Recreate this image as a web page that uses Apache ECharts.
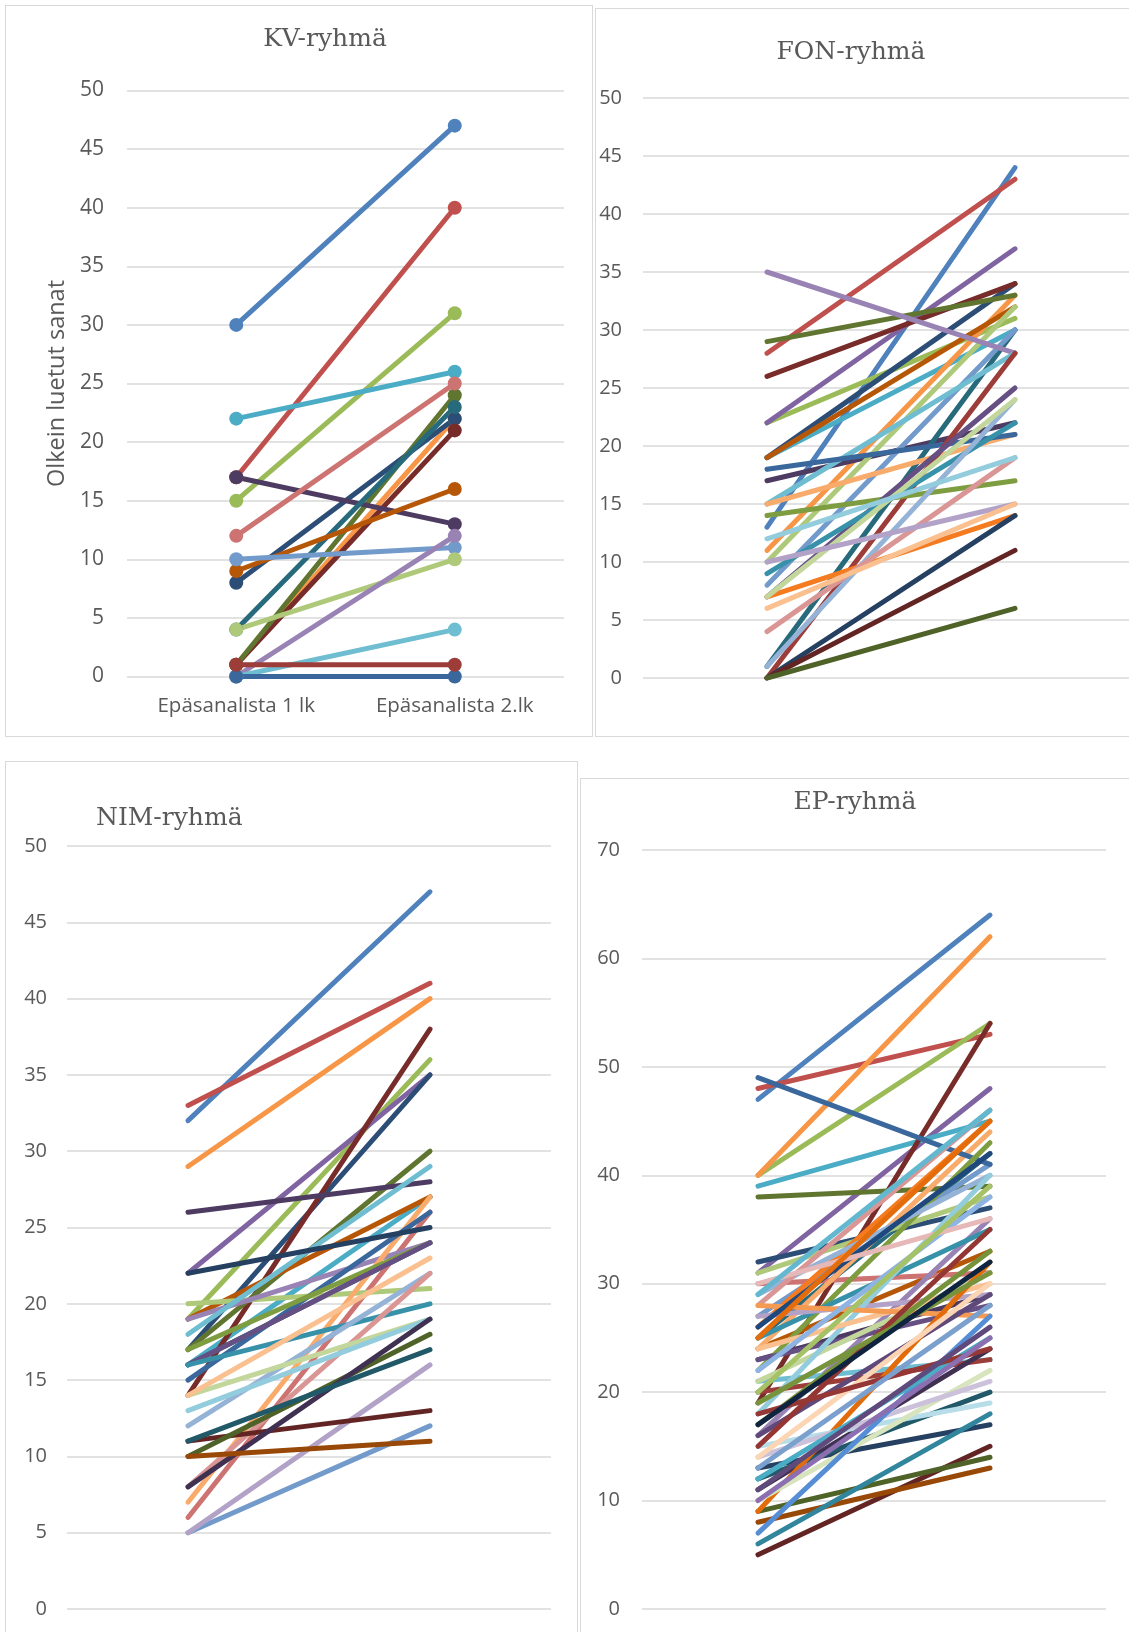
<!DOCTYPE html>
<html><head><meta charset="utf-8">
<script src="https://cdn.jsdelivr.net/npm/echarts@6/dist/echarts.min.js"></script>
<style>
html,body{margin:0;padding:0;background:#fff;overflow:hidden;width:1129px;height:1632px;}
.panel{position:absolute;box-sizing:border-box;border:1px solid #d9d9d9;background:#fff;}
</style></head><body>
<div id="kv" class="panel" style="left:5px;top:5px;width:588px;height:732px"></div>
<div id="fon" class="panel" style="left:595px;top:8px;width:560px;height:729px"></div>
<div id="nim" class="panel" style="left:5px;top:761px;width:573px;height:900px"></div>
<div id="ep" class="panel" style="left:580px;top:778px;width:560px;height:900px"></div>
<script>
// ---------- DATA ----------
const categories = ['Epäsanalista 1 lk', 'Epäsanalista 2.lk'];
const yAxisName = 'Olkein luetut sanat';
const titles = ['KV-ryhmä', 'FON-ryhmä', 'NIM-ryhmä', 'EP-ryhmä'];

// KV-ryhmä
const kvColor = [0,1,2,4,5,6,7,8,9,10,11,12,13,14,15,16,18,19];
const kvPre   = [30,17,15,22,1,8,1,1,17,4,9,10,12,4,0,0,0,1];
const kvPost  = [47,40,31,26,22,22,21,24,13,23,16,11,25,10,12,4,0,1];

// FON-ryhmä
const fonColor = [0,1,2,3,4,5,6,7,8,9,10,11,12,14,15,16,17,18,19,20,21,22,23,24,25,26,27,28,29,30,31,32];
const fonPre   = [13,28,22,22,19,11,19,26,29,17,1,19,8,10,35,15,15,18,0,14,7,9,7,1,4,7,10,12,6,0,0,0];
const fonPost  = [44,43,31,37,30,33,34,34,33,22,30,32,30,32,28,28,21,21,28,17,25,22,14,24,19,24,15,19,15,14,11,6];

// NIM-ryhmä
const nimColor = [0,1,2,3,4,5,6,7,8,9,10,11,12,13,14,15,16,17,18,20,21,22,24,25,26,27,28,29,30,31,32,33,34,35];
const nimPre   = [32,33,19,22,16,29,17,14,17,26,16,19,5,6,20,19,18,7,15,17,16,16,12,8,14,5,13,14,22,11,10,8,11,10];
const nimPost  = [47,41,36,35,27,40,35,38,30,28,24,27,12,26,21,24,29,27,26,24,24,20,22,22,19,16,19,23,25,13,18,19,17,11];

// EP-ryhmä
const epPre  = [47,48,40,31,39,40,32,19,38,23,25,24,27,30,31,16,21,24,49,20,22,23,25,26,29,28,21,27,18,24,13,5,9,11,12,8,28,26,22,30,17,16,6,9,15,10,14,14,7,15,19,12,18,11,13,25,17,20,10,29];
const epPost = [64,53,54,48,45,62,37,54,39,29,42,33,41,31,38,36,23,44,41,23,43,28,35,45,40,46,31,29,40,30,17,15,14,24,20,13,27,42,38,36,33,29,18,32,19,22,21,30,27,35,31,25,24,26,28,45,32,39,25,46];

// ---------- STYLE ----------
const palette = [
'#4F81BD','#C0504D','#9BBB59','#8064A2','#4BACC6','#F79646',
'#2C4D75','#772C2A','#5F7530','#4D3B62','#276A7C','#B65708',
'#729ACA','#CD7371','#AFC97A','#9983B5','#6FBDD1','#F9AB6B',
'#3A679C','#9C3D3A','#7E9D40','#664F83','#3691A9','#F47B20',
'#95B3D7','#D99694','#C3D69B','#B3A2C7','#93CDDD','#FAC090',
'#254061','#632523','#4F6228','#403152','#215968','#984807',
'#F59A52','#1F497D','#8EB4E3','#E6B9B8','#76933C','#5F497A',
'#31859C','#E26B0A','#B7DEE8','#D7E4BD','#CCC1DA','#FCD5B5',
'#558ED5','#943634','#77933C','#4AACC5','#953735','#604A7B',
'#7BA0CD','#E46C0A','#0F243E','#A5C266','#8C6FB0','#63B8CF'
];
const epColor = epPre.map((v, i) => i);
const labelFont = 'Open Sans';
const titleFont = 'DejaVu Serif';

function build(id, o) {
  const chart = echarts.init(document.getElementById(id), null, {renderer: 'canvas'});
  const series = o.pre.map((v, i) => {
    const c = palette[o.colors[i]];
    return {
      type: 'line', data: [v, o.post[i]],
      symbol: o.marker ? 'circle' : 'none', symbolSize: 14, showSymbol: !!o.marker,
      lineStyle: {width: 5, color: c, cap: 'round'},
      itemStyle: {color: c}, emphasis: {disabled: true}, silent: true
    };
  });
  chart.setOption({
    animation: false,
    backgroundColor: '#ffffff',
    grid: {left: o.left, top: o.top, width: o.width, height: o.height},
    xAxis: {
      type: 'category', data: categories, boundaryGap: true,
      axisLine: {show: false}, axisTick: {show: false},
      axisLabel: {show: !!o.xLabels, color: '#595959', fontSize: 20.5, fontFamily: labelFont, margin: 19, interval: 0}
    },
    yAxis: {
      type: 'value', min: 0, max: o.max, interval: o.interval,
      axisLine: {show: false}, axisTick: {show: false},
      axisLabel: {color: '#595959', fontSize: o.lsize, fontFamily: labelFont, margin: o.margin},
      splitLine: {lineStyle: {color: '#d9d9d9', width: 1.5}},
      name: o.yName || '', nameLocation: 'middle', nameGap: 56, nameRotate: 90,
      nameTextStyle: {color: '#595959', fontSize: 23.5, fontFamily: labelFont}
    },
    graphic: [{
      type: 'text', x: o.tx, y: o.ty, silent: true,
      style: {text: o.title, align: o.talign, verticalAlign: 'middle', fill: '#595959',
              fontSize: 25, fontFamily: titleFont}
    }],
    series: series
  });
}

build('kv', {pre: kvPre, post: kvPost, colors: kvColor, marker: true, xLabels: true, yName: yAxisName,
  left: 121, top: 84.5, width: 437, height: 586, max: 50, interval: 5, margin: 23, lsize: 21,
  title: titles[0], tx: 319, ty: 33, talign: 'center'});
build('fon', {pre: fonPre, post: fonPost, colors: fonColor,
  left: 47, top: 89, width: 496, height: 580, max: 50, interval: 5, margin: 21, lsize: 20,
  title: titles[1], tx: 255, ty: 43, talign: 'center'});
build('nim', {pre: nimPre, post: nimPost, colors: nimColor,
  left: 61, top: 84, width: 484, height: 763, max: 50, interval: 5, margin: 20, lsize: 20,
  title: titles[2], tx: 90, ty: 56, talign: 'left'});
build('ep', {pre: epPre, post: epPost, colors: epColor,
  left: 61, top: 71, width: 464, height: 759, max: 70, interval: 10, margin: 22, lsize: 20,
  title: titles[3], tx: 274, ty: 23, talign: 'center'});
</script>
</body></html>
